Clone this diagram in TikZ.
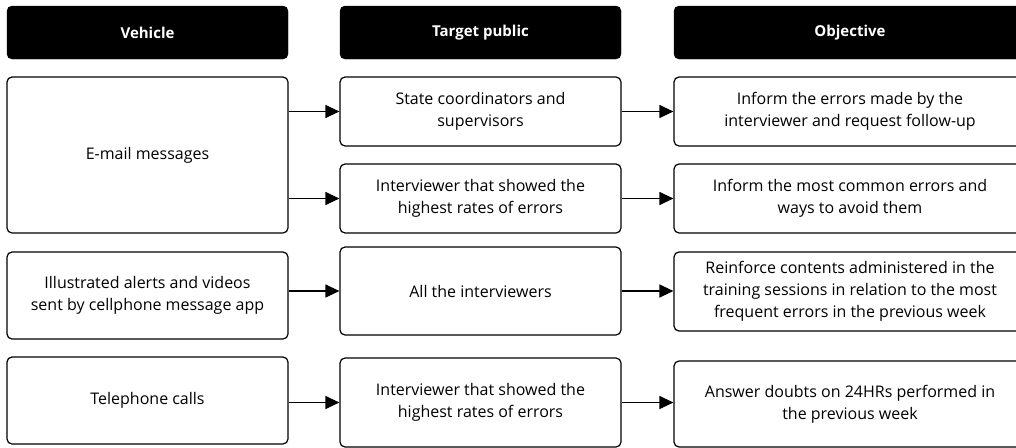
\documentclass[tikz,border=0pt]{standalone}
\usepackage{fontspec}
\setmainfont{Open Sans}
\usepackage{tikz}
\usetikzlibrary{positioning, arrows.meta}
\usepackage{xcolor}

\begin{document}
\begin{tikzpicture}[
    x=1pt, y=-1pt,
    head/.style={rectangle, draw=black, fill=black, text=white, font=\fontsize{15}{20}\selectfont\bfseries, rounded corners=5pt, minimum height=53pt, inner sep=0pt},
    box/.style={rectangle, draw=black, line width=1.2pt, fill=white, align=center, rounded corners=5pt, font=\fontsize{16}{22}\selectfont, inner sep=0pt},
    arrow/.style={-{Triangle[length=14pt, width=13pt]}, line width=1.2pt, draw=black}
]
\useasboundingbox (0,0) rectangle (1016,447);

% Headers
\node (hveh) [head, minimum width=281pt] at (147.5,32.5) {Vehicle};
\node (htgt) [head, minimum width=281pt] at (480.5,32.5) {Target public};
\node (hobj) [head, minimum width=352pt] at (850,32.5) {Objective};

% Vehicle
\node (email) [box, minimum width=281pt, minimum height=156pt] at (147.5,155) {E-mail messages};
\node (illus) [box, minimum width=281pt, minimum height=87pt] at (147.5,295.5) {Illustrated alerts and videos\\sent by cellphone message app};
\node (tel) [box, minimum width=281pt, minimum height=87pt] at (147.5,400.5) {Telephone calls};

% Target public
\node (state) [box, minimum width=281pt, minimum height=69pt] at (480.5,111.5) {State coordinators and\\supervisors};
\node (intv1) [box, minimum width=281pt, minimum height=69pt] at (480.5,198.5) {Interviewer that showed the\\highest rates of errors};
\node (all) [box, minimum width=281pt, minimum height=88pt] at (480.5,291) {All the interviewers};
\node (intv2) [box, minimum width=281pt, minimum height=89pt] at (480.5,402.5) {Interviewer that showed the\\highest rates of errors};

% Objective
\node (inf1) [box, minimum width=352pt, minimum height=69pt] at (850,111.5) {Inform the errors made by the\\interviewer and request follow-up};
\node (inf2) [box, minimum width=352pt, minimum height=69pt] at (850,198.5) {Inform the most common errors and\\ways to avoid them};
\node (reinf) [box, minimum width=352pt, minimum height=79pt] at (850,291.5) {Reinforce contents administered in the\\training sessions in relation to the most\\frequent errors in the previous week};
\node (ans) [box, minimum width=352pt, minimum height=86pt] at (850,404) {Answer doubts on 24HRs performed in\\the previous week};

% Connecting Arrows
\draw [arrow] (email.east |- state.west) -- (state.west);
\draw [arrow] (email.east |- intv1.west) -- (intv1.west);
\draw [arrow] (illus.east |- all.west) -- (all.west);
\draw [arrow] (tel.east |- intv2.west) -- (intv2.west);
\draw [arrow] (state) -- (inf1);
\draw [arrow] (intv1) -- (inf2);
\draw [arrow] (all.east) -- (reinf.west |- all.east);
\draw [arrow] (intv2.east) -- (ans.west |- intv2.east);

\end{tikzpicture}
\end{document}
